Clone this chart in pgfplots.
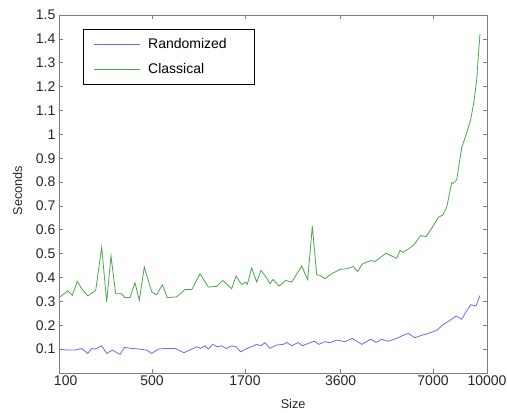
\documentclass[border=0pt]{standalone}
\usepackage{fontspec}
\setmainfont{Liberation Sans}
\usepackage{pgfplots}
\pgfplotsset{compat=1.18}

\definecolor{axgray}{RGB}{125,125,125}
\definecolor{randblue}{RGB}{105,105,250}
\definecolor{classgreen}{RGB}{75,165,75}

\begin{document}
\begin{tikzpicture}
\begin{axis}[
  name=ax,
  scale only axis,
  width=321pt, height=268.5pt,
  xmin=0, xmax=428,
  ymin=0, ymax=1.5,
  axis line style={draw=axgray, line width=0.6pt},
  tick style={draw=axgray, line width=0.5pt},
  tick align=inside,
  major tick length=3pt,
  xtick={0,93,186,281.7,374,428},
  xticklabels={\hspace*{10pt}100,500,1700,3600,7000,10000},
  ytick={0.1,0.2,0.3,0.4,0.5,0.6,0.7,0.8,0.9,1,1.1,1.2,1.3,1.4,1.5},
  yticklabels={0.1,0.2,0.3,0.4,0.5,0.6,0.7,0.8,0.9,1,1.1,1.2,1.3,1.4,1.5},
  /pgf/number format/assume math mode=true,
  ticklabel style={font=\fontsize{10.5}{12}\selectfont, text=black!85},
  yticklabel style={inner xsep=2.5pt},
  xticklabel style={inner ysep=1.5pt},
  xlabel={Size},
  ylabel={Seconds},
  label style={font=\fontsize{9.5}{11}\selectfont, text=black!85},
  xlabel style={at={(axis description cs:0.547,0)}, anchor=center, yshift=-23.5pt},
  ylabel style={at={(axis description cs:0,0.51)}, anchor=center, yshift=31pt},
  legend style={at={(0.056,0.961)}, anchor=north west,
                draw=black, line width=0.6pt, fill=white,
                font=\fontsize{10.5}{12}\selectfont,
                inner xsep=7.5pt, inner ysep=6pt,
                row sep=8.5pt,
                nodes={inner sep=0pt, text height=8pt, text depth=2.5pt}},
  legend cell align=left,
  legend image code/.code={\draw[#1, line width=0.6pt] (0pt,0pt) -- (34.5pt,0pt);},
  /tikz/every odd column/.append style={column sep=6pt},
]
\addplot[randblue, line width=0.6pt] coordinates {
  (1,0.099) (9.3,0.096) (16,0.096) (22.7,0.103) (28.7,0.082) (32.7,0.103)
  (36,0.1) (42.7,0.114) (47.7,0.082) (53.3,0.096) (61,0.078) (65.3,0.107)
  (72.7,0.103) (81,0.1) (87.7,0.096) (92.7,0.082) (99.3,0.1) (106,0.103)
  (116,0.103) (125,0.085) (132.7,0.1) (137.7,0.11) (141.7,0.103) (146,0.114)
  (149.3,0.1) (153.7,0.12) (158.3,0.11) (162.7,0.114) (167,0.103) (172.7,0.114)
  (177,0.11) (181.7,0.089) (188.3,0.103) (197.7,0.12) (201.7,0.114) (206,0.127)
  (211,0.103) (217.7,0.117) (224.3,0.12) (227.7,0.128) (232.7,0.114) (239.3,0.128)
  (243.3,0.114) (249.3,0.124) (255.3,0.133) (260,0.12) (265.3,0.131) (271,0.127)
  (277.7,0.138) (286,0.131) (293.3,0.145) (302.7,0.12) (312,0.142) (317,0.128)
  (322.7,0.141) (329.3,0.133) (337.7,0.145) (344.3,0.158) (349.3,0.166) (356,0.148)
  (362.7,0.158) (369.3,0.166) (377.7,0.179) (384.3,0.203) (391,0.221) (397,0.239)
  (402.7,0.225) (407,0.256) (411.7,0.286) (417,0.281) (421,0.325)
};
\addlegendentry{Randomized\hspace*{13pt}}
\addplot[classgreen, line width=0.6pt] coordinates {
  (1,0.319) (8.7,0.344) (13.3,0.325) (18.3,0.384) (22.7,0.353) (28.7,0.323)
  (36.7,0.346) (42.7,0.527) (47.7,0.298) (52,0.49) (56.7,0.332) (62.7,0.332)
  (66,0.316) (71,0.316) (76,0.378) (80.3,0.305) (85.3,0.444) (92.7,0.339)
  (97.7,0.328) (103.3,0.37) (108.3,0.316) (117.7,0.319) (126,0.35) (132.7,0.349)
  (141,0.416) (149.3,0.36) (157.7,0.363) (163.7,0.388) (172.7,0.353) (177,0.406)
  (182.7,0.37) (187,0.381) (188.3,0.371) (192.7,0.44) (197.7,0.381) (202,0.43)
  (207,0.402) (211,0.374) (214,0.392) (220,0.364) (226.7,0.388) (232.7,0.381)
  (242.7,0.448) (248.7,0.391) (253.3,0.615) (257.7,0.412) (261,0.409) (266,0.395)
  (272.7,0.416) (281,0.434) (287.7,0.437) (294.3,0.446) (298.7,0.425) (303.3,0.457)
  (312,0.471) (316,0.467) (327,0.502) (332.7,0.49) (337.7,0.481) (341,0.513)
  (344.3,0.506) (354.3,0.534) (361.7,0.576) (367,0.571) (374.3,0.617) (379.3,0.652)
  (383.7,0.662) (387.7,0.694) (392.7,0.798) (394.3,0.795) (397.7,0.809) (402.7,0.944)
  (407.7,1.007) (411.7,1.062) (415,1.138) (417.7,1.229) (419.3,1.326) (421,1.421)
};
\addlegendentry{Classical}
\end{axis}
\pgfresetboundingbox
\path ([shift={(-44.25pt,-30pt)}]ax.south west) rectangle ([shift={(15pt,11.25pt)}]ax.north east);
\end{tikzpicture}
\end{document}
